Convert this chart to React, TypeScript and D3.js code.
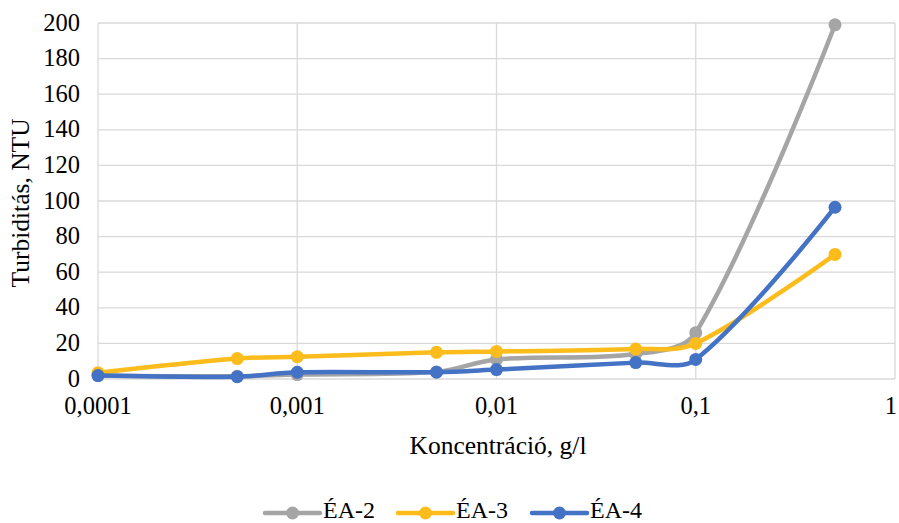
import React from "react";
import * as d3 from "d3";

const concentrations = [0.0001, 0.0005, 0.001, 0.005, 0.01, 0.05, 0.1, 0.5];
const seriesNames = ["ÉA-2", "ÉA-3", "ÉA-4"];
const ea2 = [2, 1.5, 2.5, 4, 11, 14, 26, 199];
const ea3 = [3.5, 11.5, 12.5, 15, 15.5, 16.8, 20, 70];
const ea4 = [1.9, 1.3, 3.8, 3.8, 5.3, 9.2, 11, 96.5];
const seriesColors = ["#a5a5a5", "#fbbc1c", "#4472c4"];
const xTicks = [0.0001, 0.001, 0.01, 0.1, 1];
const xTickLabels = ["0,0001", "0,001", "0,01", "0,1", "1"];
const yTicks = [0, 20, 40, 60, 80, 100, 120, 140, 160, 180, 200];

const W = 899;
const H = 523;
const SERIF = '"Liberation Serif", Tinos, "Times New Roman", serif';

// Smoothed path: cubic Béziers whose tangents are weighted by neighbouring chord lengths.
function smoothPath(pts: [number, number][]): string {
  const path = d3.path();
  const n = pts.length;
  if (n === 0) return "";
  const dist = (a: [number, number], b: [number, number]) => Math.hypot(b[0] - a[0], b[1] - a[1]);
  const cpIn: [number, number][] = [];
  const cpOut: [number, number][] = [];
  for (let i = 0; i < n; i++) {
    const p = pts[i];
    if (i === 0 || i === n - 1) {
      cpIn.push(p);
      cpOut.push(p);
      continue;
    }
    const prev = pts[i - 1];
    const next = pts[i + 1];
    const tx = next[0] - prev[0];
    const ty = next[1] - prev[1];
    const d1 = dist(prev, p);
    const d2 = dist(p, next);
    const k = 1 / 3;
    const f1 = (d1 / (d1 + d2)) * k;
    const f2 = (d2 / (d1 + d2)) * k;
    cpIn.push([p[0] - tx * f1, p[1] - ty * f1]);
    cpOut.push([p[0] + tx * f2, p[1] + ty * f2]);
  }
  path.moveTo(pts[0][0], pts[0][1]);
  for (let i = 1; i < n; i++) {
    const a = cpOut[i - 1];
    const b = cpIn[i];
    path.bezierCurveTo(a[0], a[1], b[0], b[1], pts[i][0], pts[i][1]);
  }
  return path.toString();
}

export default function App() {
  const x = d3.scaleLog().domain([0.0001, 1]).range([98, 895]);
  const y = d3.scaleLinear().domain([0, 200]).range([379, 23]);
  const data = [ea2, ea3, ea4];

  const legendX = [265, 398, 532];
  const tickStyle = { fontFamily: SERIF, fontSize: "24.5px" };
  const titleStyle = { fontFamily: SERIF, fontSize: "25.5px" };

  return (
    <svg width={W} height={H} style={{ position: "absolute", left: 0, top: 0, background: "#fff" }}>
      {/* grid */}
      {yTicks.map((t) => (
        <line key={"gy" + t} x1={98} x2={895} y1={y(t)} y2={y(t)} stroke="#d9d9d9" strokeWidth={1.3} />
      ))}
      {xTicks.map((t) => (
        <line key={"gx" + t} x1={x(t)} x2={x(t)} y1={23} y2={379} stroke="#d9d9d9" strokeWidth={1.3} />
      ))}
      {/* tick labels */}
      {yTicks.map((t) => (
        <text key={"ty" + t} x={80} y={y(t) + 7.5} textAnchor="end" fill="#000" style={tickStyle}>
          {t}
        </text>
      ))}
      {xTicks.map((t, i) => {
        // keep the last label inside the drawing area
        const last = i === xTicks.length - 1;
        return (
          <text
            key={"tx" + t}
            x={last ? W - 2 : x(t)}
            y={414}
            textAnchor={last ? "end" : "middle"}
            fill="#000"
            style={tickStyle}
          >
            {xTickLabels[i]}
          </text>
        );
      })}
      {/* axis titles */}
      <text x={498} y={454} textAnchor="middle" fill="#000" style={titleStyle}>
        Koncentráció, g/l
      </text>
      <text transform={`translate(29,203) rotate(-90)`} textAnchor="middle" fill="#000" style={titleStyle}>
        Turbiditás, NTU
      </text>
      {/* series */}
      {data.map((vals, si) => {
        const pts = concentrations.map((c, i) => [x(c), y(vals[i])] as [number, number]);
        return (
          <g key={"s" + si}>
            <path d={smoothPath(pts)} fill="none" stroke={seriesColors[si]} strokeWidth={4.5} strokeLinejoin="round" strokeLinecap="round" />
            {pts.map((p, i) => (
              <circle key={i} cx={p[0]} cy={p[1]} r={6.5} fill={seriesColors[si]} />
            ))}
          </g>
        );
      })}
      {/* legend */}
      {seriesNames.map((n, i) => (
        <g key={"l" + n}>
          <line x1={legendX[i]} x2={legendX[i] + 55} y1={513} y2={513} stroke={seriesColors[i]} strokeWidth={4.5} strokeLinecap="round" />
          <circle cx={legendX[i] + 27.5} cy={513} r={6.5} fill={seriesColors[i]} />
          <text x={legendX[i] + 58} y={517.5} fill="#000" style={{ fontFamily: SERIF, fontSize: "24px" }}>
            {n}
          </text>
        </g>
      ))}
    </svg>
  );
}
